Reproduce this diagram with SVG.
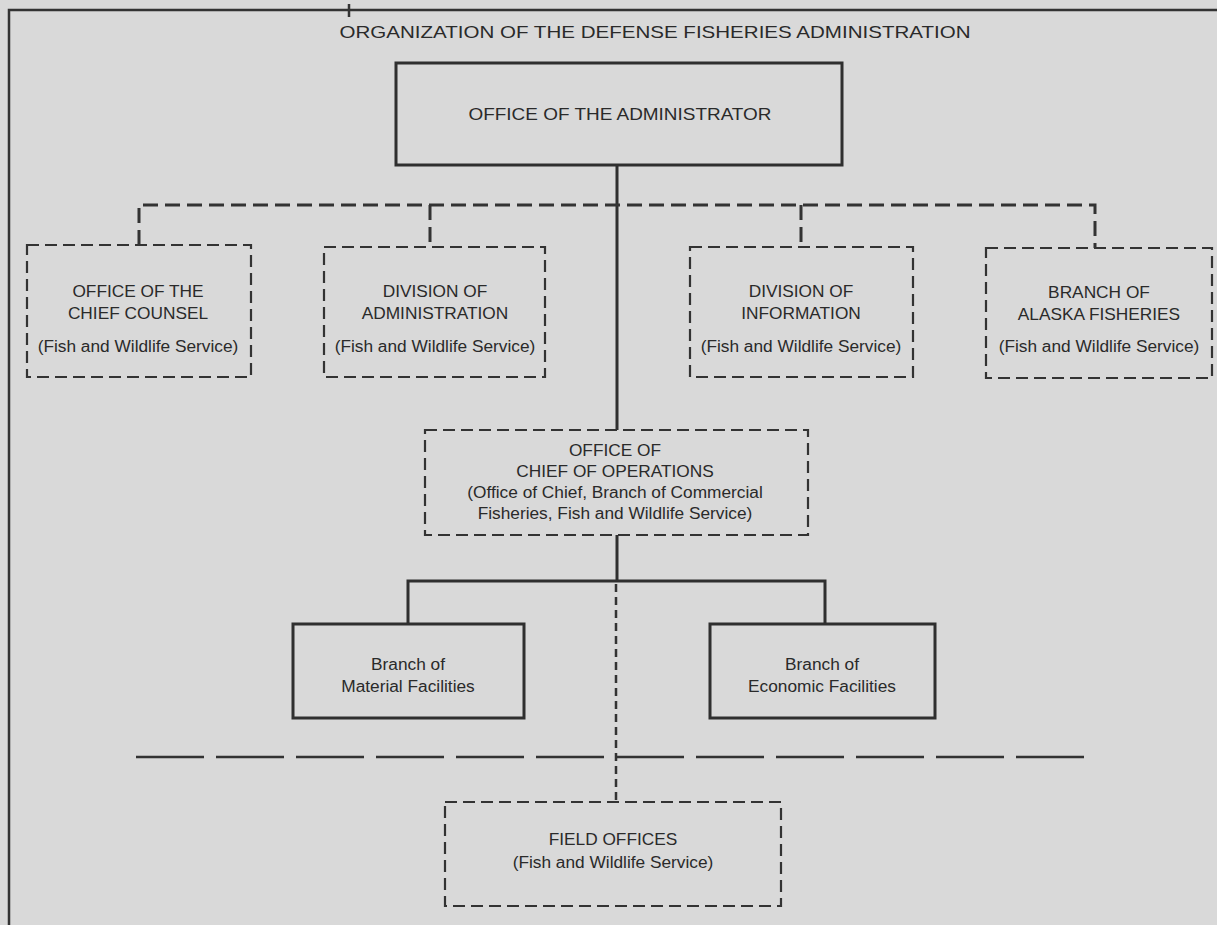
<svg xmlns="http://www.w3.org/2000/svg" width="1217" height="925" viewBox="0 0 1217 925">
  <style>
    .t { font-family: "Liberation Sans", Arial, sans-serif; fill: #2a2a2a; text-anchor: middle; font-size: 17.3px; }
    .solid { fill: none; stroke: #2f2f2f; stroke-width: 3; }
    .dbox { fill: none; stroke: #333; stroke-width: 2.2; stroke-dasharray: 12 6; }
    .dconn { fill: none; stroke: #333; stroke-width: 3; stroke-dasharray: 15 7; }
    .dvert { fill: none; stroke: #333; stroke-width: 2.5; stroke-dasharray: 8 5; }
    .dlong { fill: none; stroke: #333; stroke-width: 2.5; stroke-dasharray: 68 12; }
    .frame { fill: none; stroke: #333; stroke-width: 2.5; }
  </style>
  <rect x="0" y="0" width="1217" height="925" fill="#d9d9d9"/>

  <g id="frame">
    <path class="frame" d="M9 925 V10 H1217"/>
    <path class="frame" d="M349 4 V17" stroke-width="1.5"/>
  </g>

  <g id="title">
    <text class="t" x="655" y="38" font-size="22" textLength="631" lengthAdjust="spacingAndGlyphs">ORGANIZATION OF THE DEFENSE FISHERIES ADMINISTRATION</text>
  </g>

  <g id="connectors">
    <path class="solid" d="M617 165 V430"/>
    <path class="dconn" d="M139 245 V205 H1095 V248"/>
    <path class="dconn" d="M430 205 V247"/>
    <path class="dconn" d="M801 205 V247"/>
    <path class="solid" d="M617 535 V581"/>
    <path class="solid" d="M408 624 V581 H825 V624"/>
    <path class="dvert" d="M616 584 V802"/>
    <path class="dlong" d="M136 757 H1095"/>
  </g>

  <g id="administrator">
    <rect class="solid" x="396" y="63" width="446" height="102"/>
    <text class="t" x="620" y="120" font-size="21" textLength="303" lengthAdjust="spacingAndGlyphs">OFFICE OF THE ADMINISTRATOR</text>
  </g>

  <g id="chief-counsel">
    <rect class="dbox" x="27" y="245" width="224" height="132"/>
    <text class="t" x="138" y="297">OFFICE OF THE</text>
    <text class="t" x="138" y="319">CHIEF COUNSEL</text>
    <text class="t" x="138" y="352">(Fish and Wildlife Service)</text>
  </g>

  <g id="division-administration">
    <rect class="dbox" x="324" y="247" width="221" height="130"/>
    <text class="t" x="435" y="297">DIVISION OF</text>
    <text class="t" x="435" y="319">ADMINISTRATION</text>
    <text class="t" x="435" y="352">(Fish and Wildlife Service)</text>
  </g>

  <g id="division-information">
    <rect class="dbox" x="690" y="247" width="223" height="130"/>
    <text class="t" x="801" y="297">DIVISION OF</text>
    <text class="t" x="801" y="319">INFORMATION</text>
    <text class="t" x="801" y="352">(Fish and Wildlife Service)</text>
  </g>

  <g id="alaska-fisheries">
    <rect class="dbox" x="986" y="248" width="226" height="130"/>
    <text class="t" x="1099" y="298">BRANCH OF</text>
    <text class="t" x="1099" y="320">ALASKA FISHERIES</text>
    <text class="t" x="1099" y="352">(Fish and Wildlife Service)</text>
  </g>

  <g id="chief-operations">
    <rect class="dbox" x="425" y="430" width="383" height="105"/>
    <text class="t" x="615" y="456">OFFICE OF</text>
    <text class="t" x="615" y="477">CHIEF OF OPERATIONS</text>
    <text class="t" x="615" y="498">(Office of Chief, Branch of Commercial</text>
    <text class="t" x="615" y="519">Fisheries, Fish and Wildlife Service)</text>
  </g>

  <g id="material-facilities">
    <rect class="solid" x="293" y="624" width="231" height="94"/>
    <text class="t" x="408" y="670">Branch of</text>
    <text class="t" x="408" y="692">Material Facilities</text>
  </g>

  <g id="economic-facilities">
    <rect class="solid" x="710" y="624" width="225" height="94"/>
    <text class="t" x="822" y="670">Branch of</text>
    <text class="t" x="822" y="692">Economic Facilities</text>
  </g>

  <g id="field-offices">
    <rect class="dbox" x="445" y="802" width="336" height="104"/>
    <text class="t" x="613" y="845">FIELD OFFICES</text>
    <text class="t" x="613" y="868">(Fish and Wildlife Service)</text>
  </g>
</svg>
